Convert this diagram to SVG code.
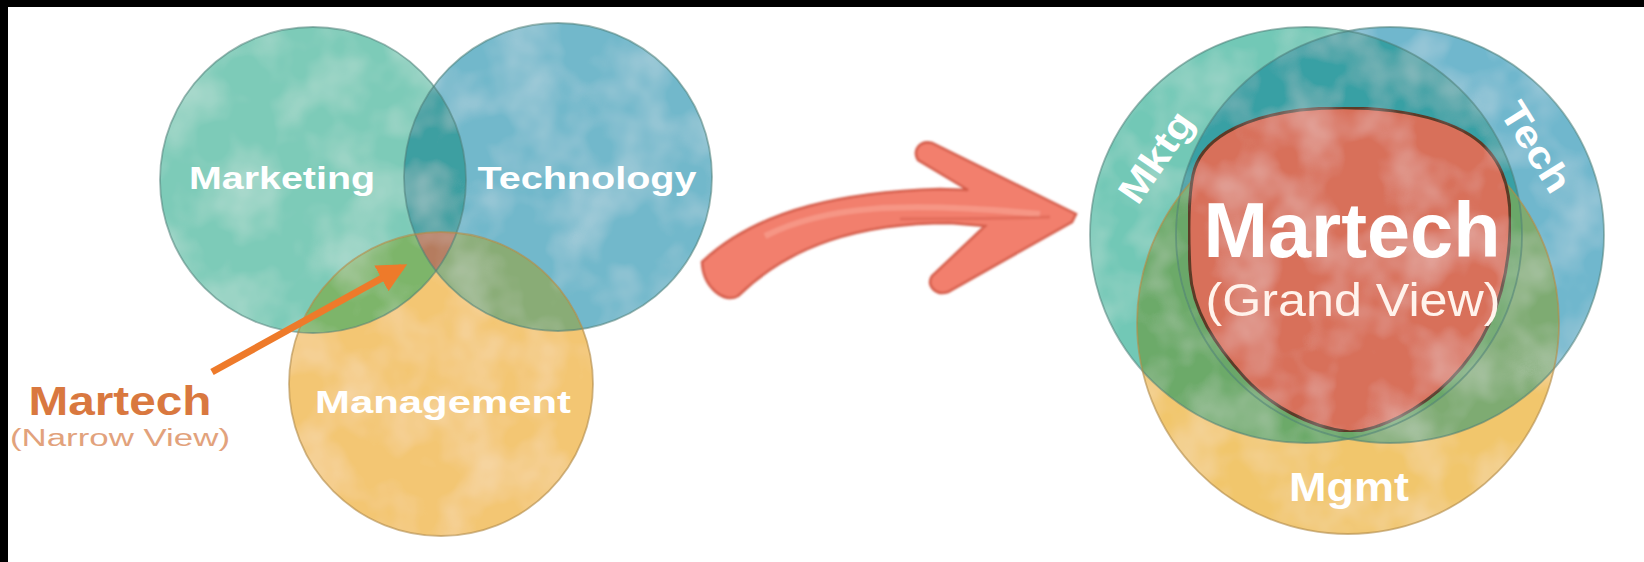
<svg xmlns="http://www.w3.org/2000/svg" width="1644" height="562" viewBox="0 0 1644 562">
  <style>
    .lbl { font-family: "Liberation Sans", Arial, sans-serif; font-weight: bold; fill: #ffffff; text-anchor: middle; }
    .thin { font-family: "Liberation Sans", Arial, sans-serif; font-weight: normal; text-anchor: middle; }
    .edge { fill: none; stroke: #4f7f78; stroke-opacity: 0.55; stroke-width: 1.8; }
    .edgey { fill: none; stroke: #b08a4a; stroke-opacity: 0.6; stroke-width: 1.8; }
  </style>
  <defs>
    <clipPath id="cLMk"><circle cx="313" cy="180" r="153"/></clipPath>
    <clipPath id="cLTe"><circle cx="558" cy="177" r="154"/></clipPath>
    <clipPath id="cRMk"><ellipse cx="1306" cy="235" rx="216" ry="208"/></clipPath>
    <clipPath id="cRTe"><ellipse cx="1390" cy="235" rx="214" ry="208"/></clipPath>
    <filter id="wc" x="0" y="0" width="100%" height="100%">
      <feTurbulence type="fractalNoise" baseFrequency="0.018" numOctaves="3" seed="4" result="n"/>
      <feColorMatrix in="n" type="matrix" values="0 0 0 0 1  0 0 0 0 1  0 0 0 0 1  0.5 0 0 0 -0.2" result="w"/>
      <feComposite in="w" in2="SourceGraphic" operator="atop"/>
    </filter>
    <filter id="soft" x="-5%" y="-5%" width="110%" height="110%">
      <feGaussianBlur stdDeviation="1.3"/>
    </filter>
    <marker id="oh" viewBox="0 0 10 10" refX="8" refY="5" markerWidth="4.2" markerHeight="4.2" orient="auto">
      <path d="M0,0 L10,5 L0,10 Z" fill="#ee7a2a"/>
    </marker>
  </defs>

  <rect x="0" y="0" width="1644" height="562" fill="#ffffff"/>

  <!-- LEFT VENN -->
  <g id="venn-narrow">
    <g filter="url(#wc)">
      <g id="marketing">
        <circle cx="313" cy="180" r="153" fill="#7dcbb8"/>
      </g>
      <g id="technology">
        <circle cx="558" cy="177" r="154" fill="#72b8cb"/>
      </g>
      <g id="management">
        <circle cx="441" cy="384" r="152" fill="#f3c673"/>
      </g>
      <g id="overlaps-narrow">
        <circle cx="558" cy="177" r="154" fill="#3d9fa1" clip-path="url(#cLMk)"/>
        <circle cx="441" cy="384" r="152" fill="#7db56a" clip-path="url(#cLMk)"/>
        <circle cx="441" cy="384" r="152" fill="#89ac76" clip-path="url(#cLTe)"/>
        <g clip-path="url(#cLMk)"><circle cx="441" cy="384" r="152" fill="#b57c5e" clip-path="url(#cLTe)"/></g>
      </g>
    </g>
    <circle class="edge" cx="313" cy="180" r="153"/>
    <circle class="edge" cx="558" cy="177" r="154"/>
    <circle class="edgey" cx="441" cy="384" r="152"/>
    <text class="lbl" x="282" y="189" font-size="31" textLength="186" lengthAdjust="spacingAndGlyphs">Marketing</text>
    <text class="lbl" x="587" y="189" font-size="31" textLength="219" lengthAdjust="spacingAndGlyphs">Technology</text>
    <text class="lbl" x="443" y="413" font-size="32" textLength="256" lengthAdjust="spacingAndGlyphs">Management</text>
  </g>

  <g id="martech-narrow-label">
    <text class="lbl" x="120" y="415" font-size="40" style="fill:#d9783f" textLength="183" lengthAdjust="spacingAndGlyphs">Martech</text>
    <text class="thin" x="120" y="446" font-size="23" fill="#e2a27c" textLength="220" lengthAdjust="spacingAndGlyphs">(Narrow View)</text>
  </g>

  <!-- RIGHT VENN -->
  <g id="venn-grand">
    <g filter="url(#wc)">
      <g id="mktg">
        <ellipse cx="1306" cy="235" rx="216" ry="208" fill="#72c8b6"/>
      </g>
      <g id="tech">
        <ellipse cx="1390" cy="235" rx="214" ry="208" fill="#70b7cd"/>
      </g>
      <g id="mgmt">
        <circle cx="1348" cy="323" r="211" fill="#f1c66c"/>
      </g>
      <g id="overlaps-grand">
        <ellipse cx="1390" cy="235" rx="214" ry="208" fill="#38a0a4" clip-path="url(#cRMk)"/>
        <circle cx="1348" cy="323" r="211" fill="#6caa69" clip-path="url(#cRMk)"/>
        <circle cx="1348" cy="323" r="211" fill="#7eab72" clip-path="url(#cRTe)"/>
        <g clip-path="url(#cRMk)"><circle cx="1348" cy="323" r="211" fill="#6ba769" clip-path="url(#cRTe)"/></g>
      </g>
    </g>
    <ellipse class="edge" cx="1306" cy="235" rx="216" ry="208"/>
    <ellipse class="edge" cx="1390" cy="235" rx="214" ry="208"/>
    <circle class="edgey" cx="1348" cy="323" r="211"/>
    <g id="martech-grand">
      <path d="M1193,175 C1200,140 1240,118 1300,110 C1360,104 1430,110 1470,135 C1500,154 1512,185 1510,230 C1508,290 1490,340 1450,380 C1420,410 1380,430 1350,432 C1310,428 1270,405 1245,378 C1215,345 1192,310 1190,270 C1188,230 1188,200 1193,175 Z" fill="#d8705a" stroke="#5b3a28" stroke-width="3" filter="url(#wc)"/>
      <text class="lbl" x="1352" y="257" font-size="78" textLength="297" lengthAdjust="spacingAndGlyphs">Martech</text>
      <text class="thin" x="1353" y="316" font-size="46" fill="#fff3ec" textLength="295" lengthAdjust="spacingAndGlyphs">(Grand View)</text>
    </g>
    <text class="lbl" x="1349" y="501" font-size="40" textLength="120" lengthAdjust="spacingAndGlyphs">Mgmt</text>
    <text class="lbl" font-size="38" textLength="102" lengthAdjust="spacingAndGlyphs" transform="translate(1156,157) rotate(-55.5)" x="0" y="13">Mktg</text>
    <text class="lbl" font-size="38" textLength="99" lengthAdjust="spacingAndGlyphs" transform="translate(1536,147) rotate(58)" x="0" y="13">Tech</text>
  </g>

  <!-- CONNECTORS -->
  <g id="connectors">
    <line x1="212" y1="372" x2="402" y2="267" stroke="#ee7a2a" stroke-width="7" marker-end="url(#oh)"/>
    <g id="big-arrow" filter="url(#soft)">
      <path d="M702,262 C760,207 850,192 940,189 L968,190 L918,160 C912,150 920,140 932,143 L1076,214 L1072,222 L948,292 C936,296 926,286 932,276 L985,226 L950,223 C860,223 790,245 738,296 C725,304 703,288 702,262 Z" fill="#f27f6d" stroke="#d45c4a" stroke-width="2.5"/>
      <path d="M765,236 C825,206 900,201 1040,214" fill="none" stroke="#f9a596" stroke-width="6" stroke-opacity="0.6"/>
      <path d="M900,219 C950,219 1000,219 1050,217" fill="none" stroke="#d45c4a" stroke-width="3" stroke-opacity="0.5"/>
    </g>
  </g>

  <!-- black border strips -->
  <rect x="0" y="0" width="1644" height="7" fill="#000"/>
  <rect x="0" y="0" width="8" height="562" fill="#000"/>
</svg>
